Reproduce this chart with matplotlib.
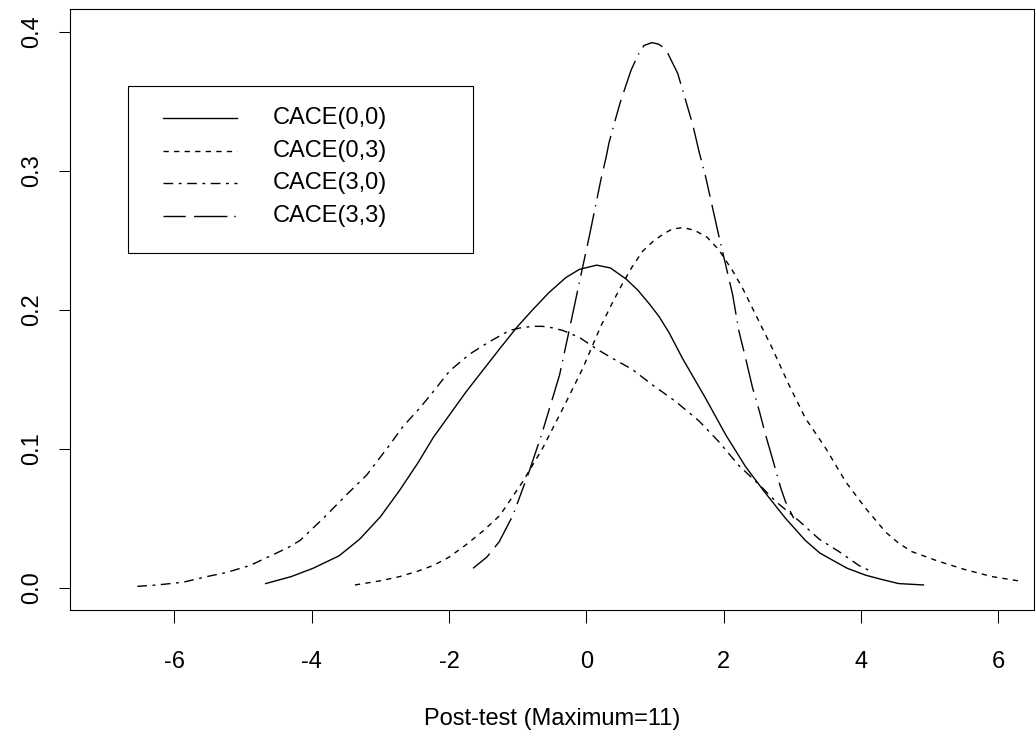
import matplotlib
matplotlib.use('Agg')
import matplotlib.pyplot as plt
from matplotlib.patches import Rectangle
from matplotlib.lines import Line2D

plt.rcParams['font.family'] = ['Liberation Sans', 'DejaVu Sans']

# CACE(0,0)
x00 = [-4.67, -4.30, -3.98, -3.60, -3.30, -3.00, -2.72, -2.45, -2.23, -1.75, -1.26, -1.00, -0.78,
       -0.55, -0.30, -0.10, 0.15, 0.35, 0.58, 0.75, 0.92, 1.06, 1.21, 1.40, 1.74, 2.03, 2.32,
       2.61, 2.90, 3.19, 3.40, 3.58, 3.80, 4.07, 4.30, 4.55, 4.91]
y00 = [0.003, 0.008, 0.014, 0.023, 0.035, 0.051, 0.070, 0.090, 0.108, 0.141, 0.172, 0.188, 0.200,
       0.212, 0.223, 0.229, 0.232, 0.230, 0.222, 0.214, 0.204, 0.195, 0.183, 0.165, 0.136, 0.110,
       0.087, 0.068, 0.050, 0.034, 0.025, 0.020, 0.014, 0.009, 0.006, 0.003, 0.002]

# CACE(0,3)
x03 = [-3.37, -3.00, -2.72, -2.45, -2.23, -2.00, -1.75, -1.50, -1.26, -0.93, -0.64, -0.30, -0.05,
       0.21, 0.38, 0.53, 0.67, 0.82, 0.97, 1.11, 1.25, 1.41, 1.58, 1.76, 1.93, 2.13, 2.28, 2.42,
       2.71, 2.95, 3.19, 3.49, 3.78, 4.07, 4.36, 4.55, 4.74, 5.13, 5.52, 5.91, 6.29]
y03 = [0.002, 0.005, 0.008, 0.012, 0.016, 0.022, 0.031, 0.041, 0.052, 0.076, 0.100, 0.133, 0.158,
       0.188, 0.205, 0.219, 0.231, 0.242, 0.249, 0.254, 0.258, 0.259, 0.257, 0.252, 0.243, 0.228,
       0.215, 0.201, 0.172, 0.146, 0.122, 0.100, 0.076, 0.057, 0.040, 0.032, 0.026, 0.019, 0.013,
       0.008, 0.005]

# CACE(3,0)
x30 = [-6.54, -6.25, -5.87, -5.53, -5.24, -4.90, -4.51, -4.34, -4.17, -4.00, -3.83, -3.49, -3.20,
       -2.86, -2.67, -2.43, -2.23, -1.99, -1.70, -1.41, -1.12, -0.95, -0.78, -0.64, -0.50, -0.34,
       -0.10, 0.14, 0.38, 0.67, 0.96, 1.30, 1.64, 1.93, 2.22, 2.52, 2.76, 3.10, 3.39, 3.68, 3.97,
       4.18]
y30 = [0.001, 0.002, 0.004, 0.008, 0.011, 0.016, 0.025, 0.029, 0.034, 0.042, 0.050, 0.067, 0.081,
       0.103, 0.116, 0.129, 0.141, 0.156, 0.168, 0.177, 0.185, 0.187, 0.188, 0.188, 0.187, 0.185,
       0.180, 0.172, 0.165, 0.157, 0.146, 0.134, 0.120, 0.105, 0.088, 0.074, 0.062, 0.048, 0.035,
       0.026, 0.016, 0.011]

# CACE(3,3)
x33 = [-1.65, -1.45, -1.27, -1.07, -0.83, -0.64, -0.39, -0.25, -0.10, 0.04, 0.14, 0.21, 0.29,
       0.33, 0.43, 0.50, 0.65, 0.75, 0.84, 0.955, 1.05, 1.11, 1.18, 1.23, 1.33, 1.42, 1.55, 1.64,
       1.74, 1.84, 1.93, 2.03, 2.13, 2.22, 2.32, 2.42, 2.52, 2.61, 2.71, 2.83, 2.90, 3.02]
y33 = [0.014, 0.022, 0.033, 0.052, 0.084, 0.112, 0.153, 0.185, 0.220, 0.252, 0.276, 0.293, 0.310,
       0.320, 0.338, 0.350, 0.372, 0.383, 0.390, 0.392, 0.391, 0.389, 0.385, 0.380, 0.370, 0.355,
       0.333, 0.314, 0.295, 0.273, 0.253, 0.232, 0.211, 0.185, 0.165, 0.144, 0.127, 0.110, 0.093,
       0.072, 0.062, 0.050]

labels = ['CACE(0,0)', 'CACE(0,3)', 'CACE(3,0)', 'CACE(3,3)']
xticks = [-6, -4, -2, 0, 2, 4, 6]
yticks = [0.0, 0.1, 0.2, 0.3, 0.4]

styles = ['-', (0, (3.8, 3.8)), (0, (7, 4, 2, 4)), (0, (16, 6, 24, 5, 1, 5))]
curves = [(x00, y00), (x03, y03), (x30, y30), (x33, y33)]

fig = plt.figure(figsize=(10.36, 7.36), dpi=100)
ax = fig.add_axes([70 / 1036, 126 / 736, 964 / 1036, 600.7 / 736])

for (xs, ys), ls in zip(curves, styles):
    ax.plot(xs, ys, color='black', lw=1.0, linestyle=ls)

ax.set_xlim(-7.52, 6.52)
ax.set_ylim(-0.016, 0.416)
ax.set_xticks(xticks)
ax.set_xticklabels([str(v) for v in xticks])
ax.set_yticks(yticks)
ax.set_yticklabels([f'{v:.1f}' for v in yticks], rotation=90, va='center')
ax.tick_params(axis='x', length=9.4, width=0.75, pad=20, labelsize=17)
ax.tick_params(axis='y', length=8, width=0.75, pad=11, labelsize=17)
for sp in ax.spines.values():
    sp.set_linewidth(0.8)

fig.text(0.5 * (70 + 1034) / 1036, 1 - 725 / 736, 'Post-test (Maximum=11)',
         ha='center', va='baseline', fontsize=17)

# legend box drawn like R's legend()
ax.add_patch(Rectangle((0.0599, 0.5943), 0.418 - 0.0599, 0.8728 - 0.5943,
                       transform=ax.transAxes, fill=False, lw=0.8, color='black'))
for i, (lab, ls) in enumerate(zip(labels, styles)):
    yy = 0.819 - i * 0.0541
    ax.add_line(Line2D([0.0965, 0.1732], [yy, yy], transform=ax.transAxes,
                       color='black', lw=1.0, linestyle=ls))
    ax.text(0.2106, yy, lab, transform=ax.transAxes, va='center', ha='left', fontsize=17)

fig.savefig('out.png', dpi=100)
